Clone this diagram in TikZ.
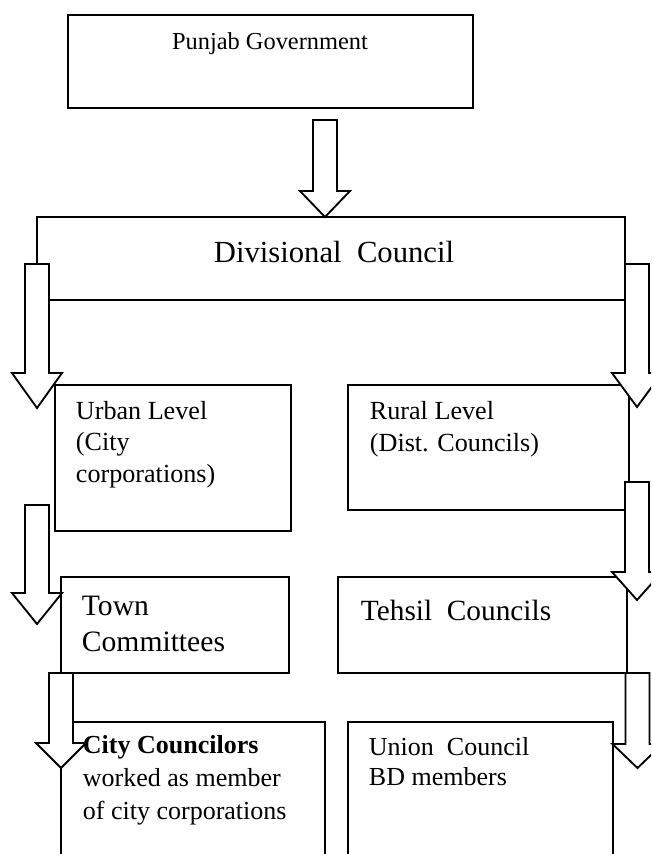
\documentclass[tikz,border=0pt]{standalone}
\usepackage{fontspec}
\setmainfont{Liberation Serif}
\newcommand{\blockarrow}[4]{%
  \filldraw[fill=white] ({#1-12},#2) -- ({#1+12},#2) -- ({#1+12},#3) -- ({#1+25},#3)
    -- (#1,#4) -- ({#1-25},#3) -- ({#1-12},#3) -- cycle;}
\begin{document}
\begin{tikzpicture}[x=0.75pt,y=-0.75pt,line width=1.4pt,
    txt/.style={anchor=base west,align=left,inner sep=0pt},
    midtxt/.style={anchor=base,inner sep=0pt}]
                \useasboundingbox (0,0) rectangle (651,854);
                \clip (0,0) rectangle (651,854);
                \draw (68,15) rectangle (473,108);
                \draw (37,217) rectangle (625,300);
                \draw (55,385) rectangle (291,531);
                \draw (348,385) rectangle (629,510);
                \draw (61,577) rectangle (289,673);
                \draw (338,577) rectangle (627,673);
                \draw (61,722) rectangle (325,900);
                \draw (348,722) rectangle (613,900);
                \blockarrow{325}{120}{191}{217}
                \blockarrow{37}{264}{373}{408}
                \blockarrow{637}{264}{373}{407}
                \blockarrow{37}{505}{593}{624}
                \blockarrow{637}{482}{572}{600}
                \blockarrow{61}{673}{743}{768}
                \blockarrow{637.5}{673}{744}{768}
                \node[midtxt,font=\fontsize{18.3}{22}\selectfont] (punjab) at (270,49) {Punjab Government};
                \node[midtxt,font=\fontsize{23}{27}\selectfont] (division) at (334,262) {Divisional\ \ Council};
                \node[txt,font=\fontsize{19.6}{23.6}\selectfont] (urban) at (75,482) {Urban Level\\(City\\corporations)};
                \node[txt,font=\fontsize{19.6}{23.6}\selectfont] (rural) at (369,451) {Rural Level\\(Dist. Councils)};
                \node[txt,font=\fontsize{22.2}{27}\selectfont] (town) at (81,651) {Town\\Committees};
                \node[txt,font=\fontsize{22}{27}\selectfont] (tehsil) at (360,620) {Tehsil\ \ Councils};
                \node[txt,font=\fontsize{19.5}{24.4}\selectfont] (city) at (82,819) {\textbf{City Councilors}\\worked as member\\of city corporations};
                \node[txt,font=\fontsize{19.5}{22.5}\selectfont] (union) at (368,785) {Union\ \ Council\\BD members};
\end{tikzpicture}
\end{document}
